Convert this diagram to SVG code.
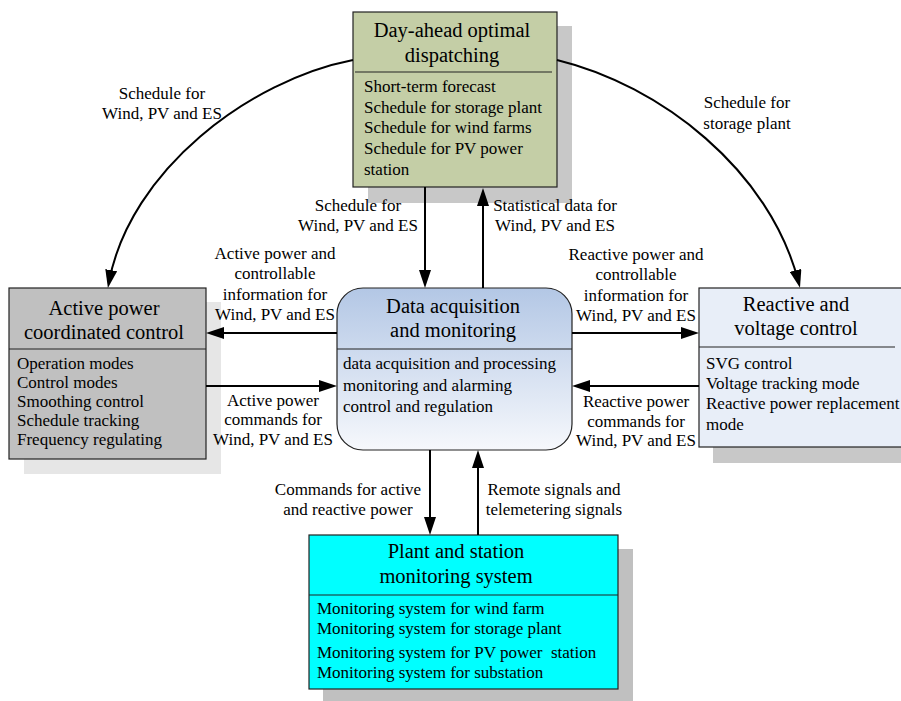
<svg xmlns="http://www.w3.org/2000/svg" width="901" height="701" viewBox="0 0 901 701" font-family="'Liberation Serif', 'DejaVu Serif', serif">
<style>
text{font-family:'Liberation Serif','DejaVu Serif',serif;fill:#000}
.t{font-size:20.5px;text-anchor:middle}
.b{font-size:17px}
.l{font-size:17px;text-anchor:middle}
.box{stroke:#222;stroke-width:1.2}
.div{stroke:#222;stroke-width:1.2}
.c{fill:none;stroke:#000;stroke-width:2}
</style>
<defs>
<marker id="ah" markerUnits="userSpaceOnUse" markerWidth="18" markerHeight="12" viewBox="0 0 18 12" refX="12" refY="6" orient="auto">
<path d="M0,0 L18,6 L0,12 z" fill="#000"/>
</marker>
<linearGradient id="gda" x1="0" y1="0" x2="0" y2="1">
<stop offset="0" stop-color="#b3c7e5"/>
<stop offset="1" stop-color="#f6f8fc"/>
</linearGradient>
</defs>
<rect width="901" height="701" fill="#fff"/>

<g id="day-ahead">
<rect x="368" y="26" width="204" height="177" fill="#c8c8c8"/>
<rect class="box" x="353" y="12" width="204" height="175" fill="#c4cea6"/>
<line class="div" x1="355" y1="72" x2="552" y2="72"/>
<text class="t" x="452" y="37">Day-ahead optimal</text>
<text class="t" x="452" y="62">dispatching</text>
<text class="b" x="364" y="92">Short-term forecast</text>
<text class="b" x="364" y="113">Schedule for storage plant</text>
<text class="b" x="364" y="133">Schedule for wind farms</text>
<text class="b" x="364" y="154">Schedule for PV power</text>
<text class="b" x="364" y="175">station</text>
</g>

<g id="active-power">
<rect x="24" y="302" width="197" height="172" fill="#e6e6e6"/>
<rect class="box" x="9" y="288" width="197" height="171" fill="#c0c0c0"/>
<line class="div" x1="9" y1="349" x2="206" y2="349"/>
<text class="t" x="104" y="315">Active power</text>
<text class="t" x="104" y="339">coordinated control</text>
<text class="b" x="17" y="369">Operation modes</text>
<text class="b" x="17" y="388">Control modes</text>
<text class="b" x="17" y="407">Smoothing control</text>
<text class="b" x="17" y="426">Schedule tracking</text>
<text class="b" x="17" y="445">Frequency regulating</text>
</g>

<g id="reactive">
<rect x="713" y="302" width="200" height="161" fill="#c8c8c8"/>
<rect class="box" x="699" y="288" width="210" height="159" fill="#e8eef8"/>
<line class="div" x1="699" y1="347" x2="895" y2="347"/>
<text class="t" x="796" y="311">Reactive and</text>
<text class="t" x="796" y="335">voltage control</text>
<text class="b" x="706" y="369">SVG control</text>
<text class="b" x="706" y="389">Voltage tracking mode</text>
<text class="b" x="706" y="409">Reactive power replacement</text>
<text class="b" x="706" y="430">mode</text>
</g>

<g id="data-acquisition">
<rect class="box" x="337" y="288" width="235" height="162" rx="26" ry="26" fill="url(#gda)"/>
<line class="div" x1="337" y1="349" x2="572" y2="349"/>
<text class="t" x="453" y="313">Data acquisition</text>
<text class="t" x="453" y="337">and monitoring</text>
<text class="b" x="343" y="369">data acquisition and processing</text>
<text class="b" x="343" y="391">monitoring and alarming</text>
<text class="b" x="343" y="412">control and regulation</text>
</g>

<g id="plant-station">
<rect x="323" y="549" width="310" height="154" fill="#c0c0c0"/>
<rect class="box" x="309" y="535" width="309" height="154" fill="#00ffff"/>
<line class="div" x1="309" y1="595" x2="618" y2="595"/>
<text class="t" x="456" y="558">Plant and station</text>
<text class="t" x="456" y="583">monitoring system</text>
<text class="b" x="317" y="614">Monitoring system for wind farm</text>
<text class="b" x="317" y="634">Monitoring system for storage plant</text>
<text class="b" x="317" y="658" style="white-space:pre">Monitoring system for PV power  station</text>
<text class="b" x="317" y="678">Monitoring system for substation</text>
</g>

<g id="connectors">
<path class="c" d="M353,60 C250,80 130,170 109,282" marker-end="url(#ah)"/>
<path class="c" d="M557,60 C660,85 770,170 798.5,282" marker-end="url(#ah)"/>
<line class="c" x1="425" y1="187" x2="425" y2="282" marker-end="url(#ah)"/>
<line class="c" x1="483" y1="288" x2="483" y2="194" marker-end="url(#ah)"/>
<line class="c" x1="337" y1="333" x2="212" y2="333" marker-end="url(#ah)"/>
<line class="c" x1="206" y1="386" x2="331" y2="386" marker-end="url(#ah)"/>
<line class="c" x1="572" y1="333" x2="693" y2="333" marker-end="url(#ah)"/>
<line class="c" x1="699" y1="386" x2="578" y2="386" marker-end="url(#ah)"/>
<line class="c" x1="430" y1="450" x2="430" y2="529" marker-end="url(#ah)"/>
<line class="c" x1="478" y1="535" x2="478" y2="456" marker-end="url(#ah)"/>
<text class="l" x="162" y="99">Schedule for</text>
<text class="l" x="162" y="119">Wind, PV and ES</text>
<text class="l" x="747" y="108">Schedule for</text>
<text class="l" x="747" y="129">storage plant</text>
<text class="l" x="358" y="211">Schedule for</text>
<text class="l" x="358" y="231">Wind, PV and ES</text>
<text class="l" x="555" y="211">Statistical data for</text>
<text class="l" x="555" y="231">Wind, PV and ES</text>
<text class="l" x="275" y="259">Active power and</text>
<text class="l" x="275" y="279">controllable</text>
<text class="l" x="275" y="300">information for</text>
<text class="l" x="275" y="320">Wind, PV and ES</text>
<text class="l" x="636" y="260">Reactive power and</text>
<text class="l" x="636" y="280">controllable</text>
<text class="l" x="636" y="301">information for</text>
<text class="l" x="636" y="321">Wind, PV and ES</text>
<text class="l" x="273" y="406">Active power</text>
<text class="l" x="273" y="425">commands for</text>
<text class="l" x="273" y="445">Wind, PV and ES</text>
<text class="l" x="636" y="407">Reactive power</text>
<text class="l" x="636" y="427">commands for</text>
<text class="l" x="636" y="446">Wind, PV and ES</text>
<text class="l" x="348" y="495">Commands for active</text>
<text class="l" x="348" y="515">and reactive power</text>
<text class="l" x="554" y="495">Remote signals and</text>
<text class="l" x="554" y="515">telemetering signals</text>
</g>
</svg>
